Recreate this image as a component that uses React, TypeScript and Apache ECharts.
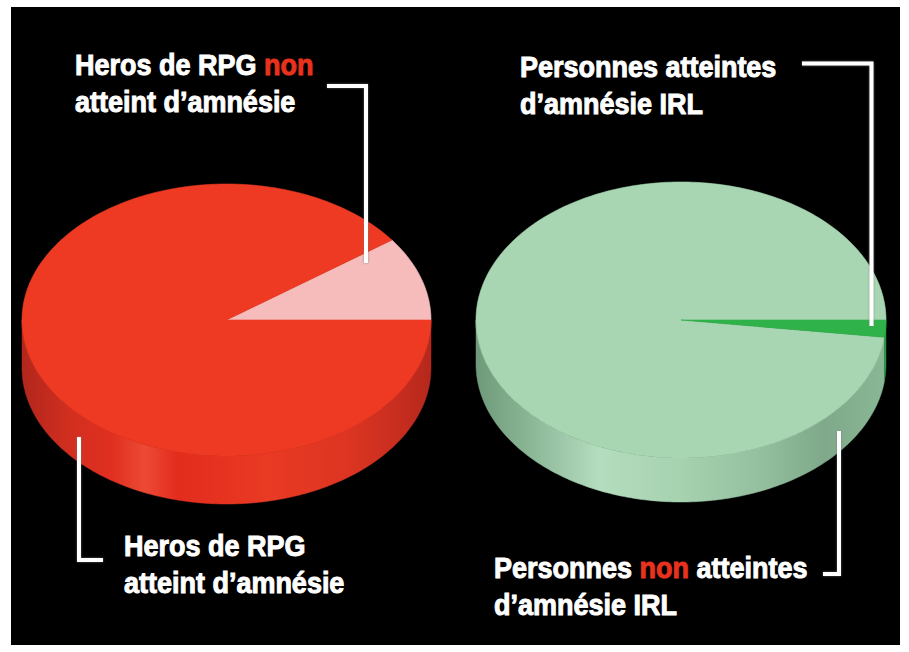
import React, { useEffect, useRef } from "react";
import * as echarts from "echarts";

// ---- data ----
const leftNames = ["Heros de RPG non atteint d’amnésie", "Heros de RPG atteint d’amnésie"];
const leftValues = [10, 90];
const rightNames = ["Personnes non atteintes d’amnésie IRL", "Personnes atteintes d’amnésie IRL"];
const rightValues = [98, 2];

// ---- styles ----
const leftTopColors = ["#f6bcbc", "#ee3a23"];
const rightTopColors = ["#a8d6b3", "#2fb24a"];

type Geo = { cx: number; cy: number; rx: number; ry: number; depth: number };
const leftGeo: Geo = { cx: 226.5, cy: 320, rx: 204.5, ry: 136, depth: 48 };
const rightGeo: Geo = { cx: 681, cy: 320, rx: 205, ry: 138, depth: 44 };

function makeRenderItem(values: number[], geo: Geo, topColors: string[], sideFills: any[]) {
  const total = values.reduce((a, b) => a + b, 0);
  return (params: any, api: any) => {
    const i = params.dataIndex;
    let start = 0;
    for (let k = 0; k < i; k++) start += values[k];
    const v = api.value(0);
    const a0 = (start / total) * 2 * Math.PI;
    const a1 = ((start + v) / total) * 2 * Math.PI;
    const pt = (t: number, dy = 0) => [geo.cx + geo.rx * Math.cos(t), geo.cy - geo.ry * Math.sin(t) + dy];
    const n = Math.max(2, Math.ceil((a1 - a0) / (Math.PI / 180)));
    const topPts: number[][] = [[geo.cx, geo.cy]];
    for (let j = 0; j <= n; j++) topPts.push(pt(a0 + ((a1 - a0) * j) / n));
    const children: any[] = [];
    const s0 = Math.max(a0, Math.PI);
    const s1 = Math.min(a1, 2 * Math.PI);
    if (s1 > s0) {
      const m = Math.max(2, Math.ceil((s1 - s0) / (Math.PI / 180)));
      const up: number[][] = [];
      const down: number[][] = [];
      for (let j = 0; j <= m; j++) {
        const t = s0 + ((s1 - s0) * j) / m;
        up.push(pt(t));
        down.push(pt(t, geo.depth));
      }
      children.push({
        type: "polygon",
        shape: { points: up.concat(down.reverse()) },
        style: { fill: sideFills[i], stroke: sideFills[i], lineWidth: 0.5 },
      });
    }
    children.push({
      type: "polygon",
      shape: { points: topPts },
      style: { fill: topColors[i], stroke: topColors[i], lineWidth: 0.6 },
    });
    return { type: "group", children };
  };
}

export default function App() {
  const ref = useRef<HTMLDivElement>(null);
  useEffect(() => {
    if (!ref.current) return;
    const chart = echarts.init(ref.current, null, { renderer: "svg" });

    const redSide = new echarts.graphic.LinearGradient(
      leftGeo.cx - leftGeo.rx, 0, leftGeo.cx + leftGeo.rx, 0,
      [
        { offset: 0, color: "#b2261c" },
        { offset: 0.12, color: "#d22f1f" },
        { offset: 0.22, color: "#e02f20" },
        { offset: 0.3, color: "#ec4a35" },
        { offset: 0.38, color: "#e32c1d" },
        { offset: 0.6, color: "#e93a24" },
        { offset: 0.8, color: "#dc3522" },
        { offset: 0.92, color: "#c72d1f" },
        { offset: 1, color: "#b5281c" },
      ],
      true
    );
    const greenSide = new echarts.graphic.LinearGradient(
      rightGeo.cx - rightGeo.rx, 0, rightGeo.cx + rightGeo.rx, 0,
      [
        { offset: 0, color: "#6f9a7a" },
        { offset: 0.12, color: "#88b494" },
        { offset: 0.3, color: "#b4dcbe" },
        { offset: 0.5, color: "#a6d2b0" },
        { offset: 0.7, color: "#93bf9e" },
        { offset: 0.85, color: "#7fa98a" },
        { offset: 1, color: "#8ab896" },
      ],
      true
    );

    const FONT = "bold 30px 'Liberation Sans', Arial, sans-serif";
    const baseRich = {
      w: { fill: "#ffffff", font: FONT, lineHeight: 37, stroke: "#ffffff", lineWidth: 1 },
      r: { fill: "#e8321e", font: FONT, lineHeight: 37, stroke: "#e8321e", lineWidth: 1 },
    };
    const label = (x: number, y: number, text: string) => ({
      type: "text",
      x,
      y,
      scaleX: 0.9,
      z: 20,
      style: {
        x: 0,
        y: 0,
        text,
        rich: baseRich,
        font: FONT,
        lineHeight: 37,
        fill: "#fff",
        textVerticalAlign: "top",
        textAlign: "left",
      },
    });
    const connector = (points: number[][]) => ({
      type: "polyline",
      z: 15,
      shape: { points },
      style: {
        stroke: "#ffffff",
        lineWidth: 4,
        fill: null,
        lineJoin: "miter",
        shadowColor: "rgba(120,120,120,0.8)",
        shadowBlur: 2,
      },
    });

    chart.setOption({
      animation: false,
      backgroundColor: "#ffffff",
      graphic: [
        { type: "rect", z: -10, shape: { x: 11, y: 7, width: 889, height: 638 }, style: { fill: "#000000" } },
        connector([[327, 86], [366, 86], [366, 263]]),
        connector([[802, 63.5], [871.5, 63.5], [871.5, 326]]),
        connector([[79, 437], [79, 560], [103, 560]]),
        connector([[839, 431], [839, 574], [823, 574]]),
        label(75, 46, "{w|Heros de RPG }{r|non}\n{w|atteint d’amnésie}"),
        label(520, 48, "{w|Personnes atteintes}\n{w|d’amnésie IRL}"),
        label(124, 527, "{w|Heros de RPG}\n{w|atteint d’amnésie}"),
        label(494, 549, "{w|Personnes }{r|non}{w| atteintes}\n{w|d’amnésie IRL}"),
      ],
      series: [
        {
          type: "custom",
          name: "RPG",
          coordinateSystem: "none",
          renderItem: makeRenderItem(leftValues, leftGeo, leftTopColors, [redSide, redSide]),
          data: leftValues.map((v, i) => ({ name: leftNames[i], value: [v] })),
          z: 2,
        },
        {
          type: "custom",
          name: "IRL",
          coordinateSystem: "none",
          renderItem: makeRenderItem(rightValues, rightGeo, rightTopColors, [greenSide, "#2a9a42"]),
          data: rightValues.map((v, i) => ({ name: rightNames[i], value: [v] })),
          z: 2,
        },
      ],
    });
    return () => chart.dispose();
  }, []);
  return (
    <div
      ref={ref}
      style={{ position: "absolute", left: 0, top: 0, width: 909, height: 652 }}
    />
  );
}
